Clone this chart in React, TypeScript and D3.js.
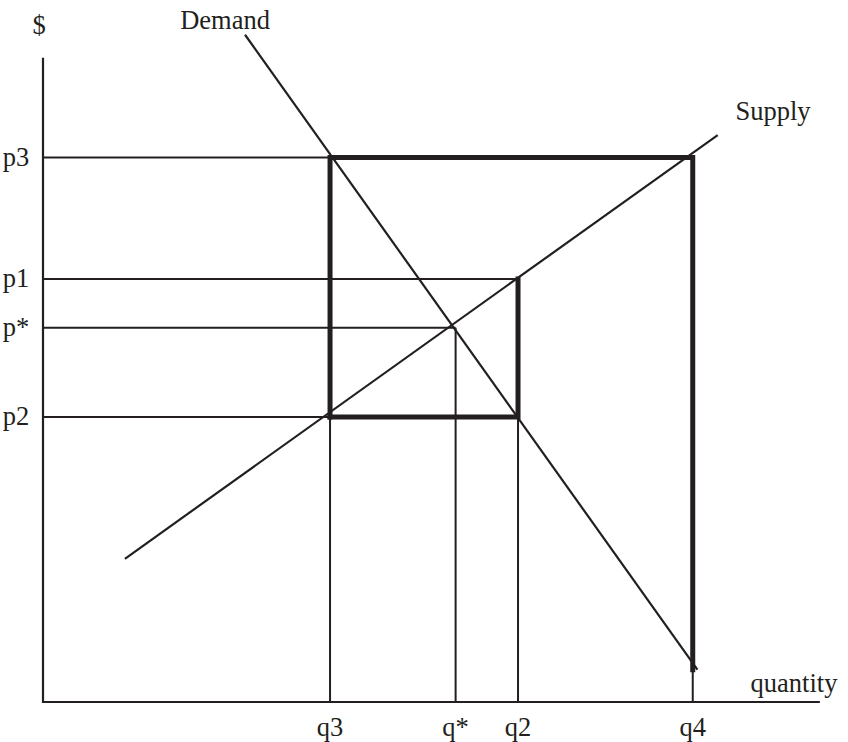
import React from "react";
import * as d3 from "d3";

// Abstract units: quantity 0..100, price 0..100
const quantities = { q3: 36.8, qStar: 52.9, q2: 60.9, q4: 83.3 };
const prices = { p3: 82.5, p1: 64.1, pStar: 56.7, p2: 43.2 };
const qTickLabels = ["q3", "q*", "q2", "q4"];
const qTickValues = [quantities.q3, quantities.qStar, quantities.q2, quantities.q4];
const pTickLabels = ["p3", "p1", "p*", "p2"];
const pTickValues = [prices.p3, prices.p1, prices.pStar, prices.p2];
const demandPoints: [number, number][] = [[25.9, 101.1], [83.9, 4.9]];
const supplyPoints: [number, number][] = [[10.5, 21.7], [86.5, 85.9]];
const axisMax = { x: 99.6, y: 97.6 };

const W = 848, H = 742;
const FONT = "'Liberation Serif', 'Times New Roman', serif";

export default function App() {
  const x = d3.scaleLinear().domain([0, 100]).range([43, 823]);
  const y = d3.scaleLinear().domain([0, 100]).range([702, 42]);
  const line = d3.line<[number, number]>().x(d => x(d[0])).y(d => y(d[1]));
  const { q3, qStar, q2, q4 } = quantities;
  const { p3, p1, pStar, p2 } = prices;
  const ink = "#231f20";

  const thin: [number, number][][] = [
    [[0, p3], [q3, p3]],
    [[0, p1], [q2, p1]],
    [[0, pStar], [qStar, pStar]],
    [[0, p2], [q3, p2]],
    [[q3, 0], [q3, p2]],
    [[qStar, 0], [qStar, pStar]],
    [[q2, 0], [q2, p2]],
    [[q4, 0], [q4, demandPoints[1][1]]],
  ];
  const thick: [number, number][][] = [
    [[q3, p2], [q3, p3], [q4, p3], [q4, demandPoints[1][1]]],
    [[q3, p2], [q2, p2], [q2, p1]],
  ];

  return (
    <svg width={W} height={H} style={{ position: "absolute", left: 0, top: 0, background: "#fff" }}>
      <rect width={W} height={H} fill="#fff" />
      <path d={line([[0, axisMax.y], [0, 0], [axisMax.x, 0]]) || ""} fill="none" stroke={ink} strokeWidth={2.2} />
      {thin.map((seg, i) => (
        <path key={"t" + i} d={line(seg) || ""} fill="none" stroke={ink} strokeWidth={2} />
      ))}
      {thick.map((seg, i) => (
        <path key={"k" + i} d={line(seg) || ""} fill="none" stroke={ink} strokeWidth={5} strokeLinejoin="miter" strokeLinecap="square" />
      ))}
      <path d={line(demandPoints) || ""} fill="none" stroke={ink} strokeWidth={2.2} />
      <path d={line(supplyPoints) || ""} fill="none" stroke={ink} strokeWidth={2.2} />

      <g fontFamily={FONT} fontSize={26.5} fill={ink}>
        <text x={39} y={34} textAnchor="middle">$</text>
        <text x={x(demandPoints[0][0]) - 20} y={29} textAnchor="middle">Demand</text>
        <text x={773} y={120} textAnchor="middle">Supply</text>
        <text x={794} y={692} textAnchor="middle">quantity</text>
        {pTickLabels.map((l, i) => (
          <text key={l} x={16} y={y(pTickValues[i]) + 8} textAnchor="middle">{l}</text>
        ))}
        {qTickLabels.map((l, i) => (
          <text key={l} x={x(qTickValues[i])} y={736} textAnchor="middle">{l}</text>
        ))}
      </g>
    </svg>
  );
}
